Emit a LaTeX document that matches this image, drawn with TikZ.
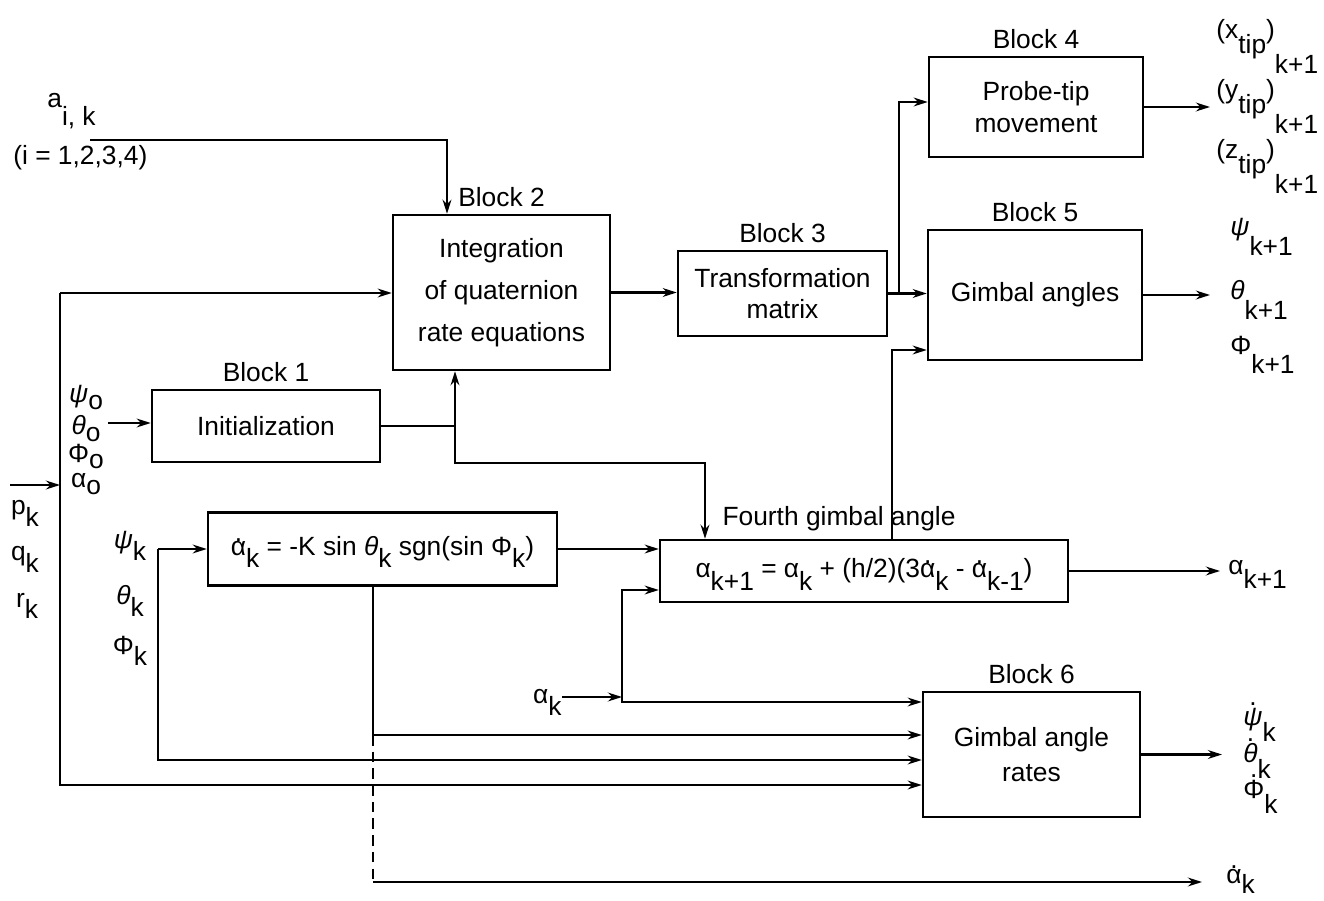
\documentclass[tikz,border=0pt]{standalone}
\usepackage{fontspec}
\setmainfont{Liberation Sans}
\usetikzlibrary{arrows.meta, positioning}
\newcommand\bodyfont{\fontsize{15}{18}\selectfont}
% lowered index and dotted letter
\newcommand\lo[2][.45em]{\raisebox{-#1}[0pt][0pt]{#2}}
\newcommand\dt[2][.55em]{{\ooalign{#2\cr\hidewidth\raisebox{#1}{.}\hidewidth\cr}}}
\tikzset{
  % Box styles
  blockbox/.style={rectangle, draw, line width=1.4pt, align=center, font=\bodyfont},
  blocklabel/.style={font=\bodyfont, inner sep=1pt},
  sig/.style={font=\bodyfont, inner sep=0pt, align=left},
  % Arrow styles
  arrow/.style={-{Stealth[length=8pt,width=5pt]}, line width=1.3pt},
  wire/.style={line width=1.3pt},
  dashwire/.style={line width=1.3pt, dash pattern=on 6pt off 3.5pt}
}

\begin{document}
\begin{tikzpicture}[x=0.02cm, y=-0.02cm]
  \useasboundingbox (0,0) rectangle (1324,901);

  % Blocks
  \node[blockbox, minimum width=4.34cm, minimum height=3.1cm, font=\fontsize{15}{24}\selectfont] (b2) at (501.5,292.5) {Integration\\of quaternion\\rate equations};
  \node[blockbox, minimum width=4.18cm, minimum height=1.7cm] (b3) at (782.5,293.5) {Transformation\\matrix};
  \node[blockbox, minimum width=4.28cm, minimum height=2cm] (b4) at (1036,107) {Probe-tip\\movement};
  \node[blockbox, minimum width=4.28cm, minimum height=2.6cm] (b5) at (1035,295) {Gimbal angles};
  \node[blockbox, minimum width=4.56cm, minimum height=1.44cm] (b1) at (266,426) {Initialization};
  \node[blockbox, minimum width=6.98cm, minimum height=1.46cm] (rate) at (382.5,549) {\dt{α}\lo{k} = -K sin \textit{θ}\lo{k} sgn(sin Φ\lo{k})};
  \node[blockbox, minimum width=8.16cm, minimum height=1.24cm] (gam) at (864,571) {α\lo[.5em]{k+1} = α\lo[.5em]{k} + (h/2)(3\dt{α}\lo[.5em]{k} - \dt{α}\lo[.5em]{k-1})};
  \node[blockbox, minimum width=4.34cm, minimum height=2.5cm, font=\fontsize{15}{20}\selectfont] (b6) at (1031.5,754.5) {Gimbal angle\\rates};

  % Block titles
  \node[blocklabel, above=3pt of b1] (t1) {Block 1};
  \node[blocklabel, above=3pt of b2] (t2) {Block 2};
  \node[blocklabel, above=3pt of b3] (t3) {Block 3};
  \node[blocklabel, above=3pt of b4] (t4) {Block 4};
  \node[blocklabel, above=3pt of b5] (t5) {Block 5};
  \node[blocklabel, above=3pt of b6] (t6) {Block 6};
  \node[blocklabel, above=3pt of gam, xshift=-0.5cm] (t7) {Fourth gimbal angle};

  % Inputs
  \node[sig, anchor=west] (aik) at (47,101) {a\lo[.65em]{i, k}};
  \node[sig, anchor=west] (irng) at (13,158) {(i = 1,2,3,4)};
  \coordinate (ain) at (90,140);
  \draw[arrow] (ain) -| ([xshift=-1.09cm]b2.north);

  \coordinate (bus) at (60,293);
  \coordinate (pin) at (10,485);
  \draw[arrow] (pin) -- (pin -| bus);
  \node[sig] (pk) at (25,510) {p\lo{k}};
  \node[sig] (qk) at (25,556) {q\lo{k}};
  \node[sig] (rk) at (27,600) {r\lo{k}};
  \draw[arrow] (bus) -- (b2.west |- bus);
  \draw[arrow] (bus) |- (b6.west |- 0,785);

  \foreach \s/\y in {\textit{ψ}/397, \textit{θ}/425, Φ/453, α/481}
    \node[sig] (z\y) at (86,\y) {\s\lo[.25em]{o}};
  \coordinate (zin) at (108,423);
  \draw[arrow] (zin) -- (b1.west |- zin);

  \node[sig] (psik) at (130,543) {\textit{ψ}\lo{k}};
  \node[sig] (thk) at (130,595) {\textit{θ}\lo{k}};
  \node[sig] (phk) at (130,645) {Φ\lo{k}};
  \coordinate (kin) at (158,549);
  \draw[arrow] (kin) -- (rate.west);
  \draw[arrow] (kin) |- (b6.west |- 0,760);

  % Block 1 out
  \coordinate (j1) at (455,426);
  \coordinate (j3) at (705,463);
  \draw[wire] (b1.east) -- (j1);
  \draw[arrow] (j1) -- (b2.south -| j1);
  \draw[arrow] (j1) |- (j3) -- (j3 |- gam.north);

  % Block 2 and 3 out
  \draw[arrow] (b2.east) -- (b3.west |- b2.east);
  \coordinate (j5) at (899,293.5);
  \draw[arrow] (b3.east) -- (b5.west |- b3.east);
  \draw[arrow] (j5) |- (b4.west |- 0,102);

  % rate of fourth gimbal angle
  \draw[arrow] (rate.east) -- (gam.west |- rate.east);
  \node[sig, anchor=east] (ak) at (562,697) {α\lo{k}};
  \coordinate (j4) at (622,697);
  \draw[arrow] (ak.east) -- (j4);
  \draw[arrow] (j4) |- (gam.west |- 0,590);
  \draw[arrow] (j4) |- (b6.west |- 0,702);
  \draw[arrow] (gam.north -| 892,0) |- (b5.west |- 0,350);

  \coordinate (rs) at (rate.south -| 373,0);
  \coordinate (rd) at (373,735);
  \coordinate (o8) at (1202,882);
  \draw[arrow] (rs) |- (b6.west |- rd);
  \draw[dashwire] (rd) -- (rd |- o8);
  \draw[arrow] (rd |- o8) -- (o8);

  % Outputs
  \coordinate (o4) at (1210,107);
  \coordinate (o5) at (1210,295);
  \coordinate (o7) at (1220,571);
  \coordinate (o6) at (1222,754.5);
  \draw[arrow] (b4.east) -- (o4);
  \draw[arrow] (b5.east) -- (o5);
  \draw[arrow] (gam.east) -- (o7);
  \draw[arrow] (b6.east) -- (o6);

  \foreach \c/\y in {x/32, y/92, z/152}
    \node[sig, anchor=west] (tip\c) at (1216,\y) {(\c\lo[.55em]{tip})\lo[1.3em]{k+1}};
  \foreach \s/\y in {\textit{ψ}/230, \textit{θ}/290, Φ/345}
    \node[sig, anchor=west] (n\y) at (1230,\y) {\s\lo[.75em]{k+1}};
  \node[sig, anchor=west] (anext) at (1228,568) {α\lo[.5em]{k+1}};
  \foreach \s/\y in {\textit{ψ}/717, \textit{θ}/753, Φ/789}
    \node[sig, anchor=west] (d\y) at (1243,\y) {\dt[.78em]{\s}\lo[.6em]{k}};
  \node[sig, anchor=west] (adot) at (1226,876) {\dt{α}\lo[.4em]{k}};
\end{tikzpicture}
\end{document}
